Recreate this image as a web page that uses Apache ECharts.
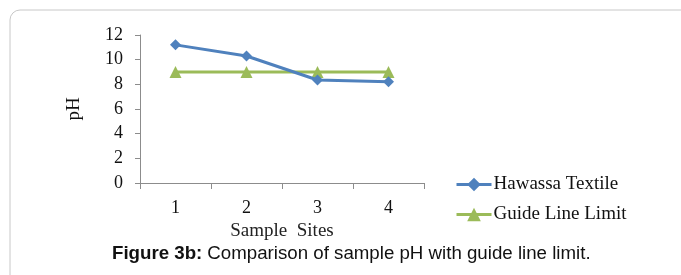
<!DOCTYPE html>
<html>
<head>
<meta charset="utf-8">
<script src="https://cdn.jsdelivr.net/npm/echarts@6/dist/echarts.min.js"></script>
<style>
  html, body { margin: 0; padding: 0; background: #fff; }
  #chart { width: 681px; height: 275px; }
</style>
</head>
<body>
<div id="chart"></div>
<script>
var sites = ['1', '2', '3', '4'];
var hawassa = [11.2, 10.3, 8.35, 8.2];
var guideLine = [9, 9, 9, 9];
var yTicks = [0, 2, 4, 6, 8, 10, 12];

var serif = '"Liberation Serif", "Times New Roman", serif';
var sans = '"Liberation Sans", Arial, sans-serif';
var chart = echarts.init(document.getElementById('chart'));

var option = {
  animation: false,
  backgroundColor: '#fff',
  graphic: [{
    type: 'rect',
    shape: { x: 10, y: 10, width: 690, height: 290, r: 10 },
    style: { fill: 'none', stroke: '#c8c8c8', lineWidth: 1 },
    silent: true
  }],
  title: {
    left: 107,
    top: 239,
    text: '{b|Figure 3b:} {n|Comparison of sample pH with guide line limit.}',
    textStyle: {
      fontWeight: 'normal',
      rich: {
        b: { fontFamily: sans, fontWeight: 'bold', fontSize: 18.7, color: '#111' },
        n: { fontFamily: sans, fontWeight: 'normal', fontSize: 18.7, color: '#111' }
      }
    }
  },
  legend: {
    orient: 'vertical',
    left: 450,
    top: 170,
    itemWidth: 35,
    itemHeight: 17,
    itemGap: 11,
    lineStyle: { width: 3 },
    textStyle: { fontFamily: serif, fontSize: 19, color: '#111', padding: [0, 0, 0, -3] },
    data: ['Hawassa Textile', 'Guide Line Limit']
  },
  grid: { left: 140, right: 257, top: 35, bottom: 92 },
  xAxis: {
    type: 'category',
    data: sites,
    boundaryGap: true,
    name: 'Sample  Sites',
    nameLocation: 'middle',
    nameGap: 35,
    nameTextStyle: { fontFamily: serif, fontSize: 19, color: '#222' },
    axisLine: { lineStyle: { color: '#8c8c8c', width: 1 } },
    axisTick: { show: true, length: 6, lineStyle: { color: '#8c8c8c' } },
    axisLabel: { fontFamily: serif, fontSize: 18, color: '#111', margin: 16 }
  },
  yAxis: {
    type: 'value',
    min: yTicks[0],
    max: yTicks[yTicks.length - 1],
    interval: 2,
    name: 'pH',
    nameLocation: 'middle',
    nameRotate: 90,
    nameGap: 56,
    nameTextStyle: { fontFamily: serif, fontSize: 19, color: '#111' },
    axisLine: { show: true, lineStyle: { color: '#8c8c8c', width: 1 } },
    axisTick: { show: true, length: 5, lineStyle: { color: '#8c8c8c' } },
    axisLabel: { fontFamily: serif, fontSize: 18, color: '#111', margin: 17 },
    splitLine: { show: false }
  },
  series: [
    {
      name: 'Hawassa Textile',
      type: 'line',
      data: hawassa,
      symbol: 'diamond',
      symbolSize: 11,
      lineStyle: { color: '#4f81bd', width: 3 },
      itemStyle: { color: '#4f81bd' },
      z: 3
    },
    {
      name: 'Guide Line Limit',
      type: 'line',
      data: guideLine,
      symbol: 'triangle',
      symbolSize: 12,
      lineStyle: { color: '#9bbb59', width: 3 },
      itemStyle: { color: '#9bbb59' },
      z: 2
    }
  ]
};

chart.setOption(option);
</script>
</body>
</html>
